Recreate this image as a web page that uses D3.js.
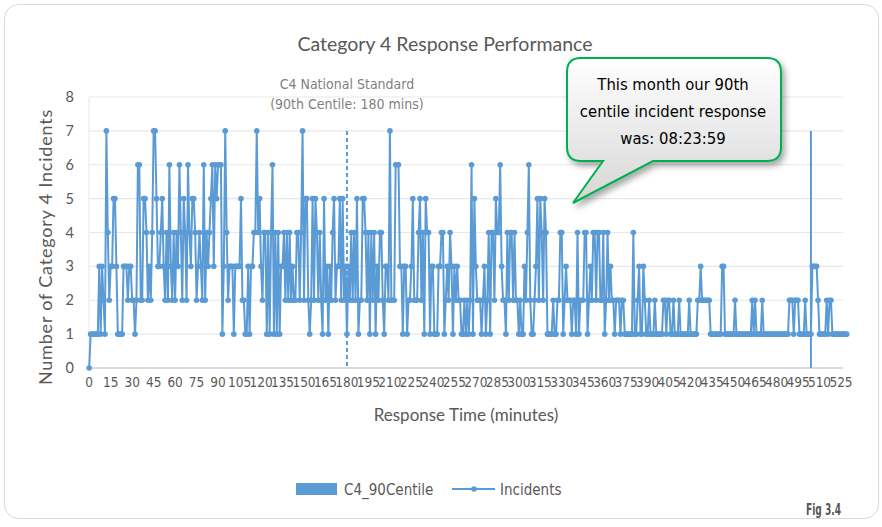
<!DOCTYPE html>
<html>
<head>
<meta charset="utf-8">
<script src="https://cdn.jsdelivr.net/npm/d3@7"></script>
<style>
  body { margin: 0; background: #fff; }
  svg { display: block; }
  text { fill: #595959; }
</style>
</head>
<body>
<div id="chart"></div>
<script>
const width = 882
const height = 527

// incidents per minute of response time (minutes 0..529)
const incidents = [
  0,1,1,1,1,1,1,3,1,3, 2,1,7,4,2,3,3,5,5,3, 1,1,1,1,3,3,3,2,3,3, 2,2,1,2,6,6,2,2,5,5,
  4,2,3,2,4,7,7,5,3,3, 4,5,3,2,4,2,6,3,2,4, 2,4,3,6,4,2,5,4,2,6, 4,3,5,5,4,2,3,4,3,2,
  6,2,4,3,4,5,6,3,6,5, 6,6,6,1,3,7,4,2,3,3, 3,1,3,3,3,3,5,2,2,1, 1,3,1,3,3,4,4,7,4,5,
  3,2,4,4,1,4,1,4,6,1, 4,1,4,1,3,3,4,2,4,2, 4,2,3,2,2,4,4,2,4,7, 2,5,5,2,1,2,5,2,5,4,
  2,4,2,1,5,2,3,1,3,2, 4,5,2,3,3,5,2,5,2,3, 1,3,2,4,2,4,2,5,1,2, 2,5,5,4,2,4,1,4,2,4,
  1,3,2,4,4,2,1,3,3,2, 7,2,2,2,6,6,6,3,3,1, 3,3,1,2,2,3,5,2,2,2, 4,5,2,4,1,5,4,4,1,3,
  3,1,1,1,3,3,4,4,1,2, 3,2,4,3,1,3,2,3,2,2, 1,1,2,1,2,1,2,6,1,5, 3,2,2,2,1,2,3,1,2,4,
  1,4,4,2,5,4,4,6,3,2, 2,1,4,2,4,4,2,4,2,2, 1,2,1,1,3,2,4,6,2,1, 1,2,3,5,2,5,4,2,5,4,
  1,1,1,1,2,1,1,2,2,4, 4,1,2,3,2,2,2,1,2,2, 1,4,1,2,2,2,4,4,1,2, 3,2,4,4,2,4,4,2,2,4,
  1,2,4,2,3,2,2,1,2,2, 2,1,2,2,1,1,1,1,1,1, 4,1,1,2,3,1,1,3,2,1, 1,2,1,1,1,2,1,1,1,1,
  1,2,2,1,2,2,1,1,2,1, 1,1,2,1,1,1,1,1,1,2, 1,1,1,1,1,2,2,3,2,2, 2,2,2,2,1,1,1,1,1,1,
  1,1,3,3,1,1,1,1,1,1, 1,2,1,1,1,1,1,1,1,1, 1,1,1,2,1,2,1,1,1,1, 2,1,1,1,1,1,1,1,1,1,
  1,1,1,1,1,1,1,1,1,2, 2,2,1,2,2,2,1,1,1,1, 2,1,1,1,1,3,3,3,3,2, 1,1,1,1,1,2,1,2,2,1,
  1,1,1,1,1,1,1,1,1,1
]
const nationalStandard = { minute: 180, height: 7 }
const centile90 = { minute: 504, height: 7 }
const xTicks = d3.range(0, 526, 15)
const yTicks = [0, 1, 2, 3, 4, 5, 6, 7, 8]
const calloutLines = ['This month our 90th', 'centile incident response', 'was: 08:23:59']

const blue = '#5b9bd5'
const narrow = '"Liberation Sans Narrow", "DejaVu Sans Condensed", sans-serif'
const body = 'Lato, "Open Sans", sans-serif'

const plot = { left: 89, right: 843, top: 97, bottom: 368 }

const x = d3.scaleLinear()
    .domain([0, incidents.length - 1])
    .range([89.2, 89.2 + 1.432 * (incidents.length - 1)])

const y = d3.scaleLinear()
    .domain([0, 8])
    .range([plot.bottom, plot.top])

const svg = d3.select('#chart')
    .append('svg')
    .attr('width', width)
    .attr('height', height)

const defs = svg.append('defs')
const grad = defs.append('linearGradient')
    .attr('id', 'calloutFill')
    .attr('x1', 0).attr('y1', 0).attr('x2', 0).attr('y2', 1)
grad.append('stop').attr('offset', '0%').attr('stop-color', '#ffffff')
grad.append('stop').attr('offset', '100%').attr('stop-color', '#d6d6d6')
defs.append('filter')
    .attr('id', 'shadow')
    .attr('x', '-20%').attr('y', '-20%').attr('width', '150%').attr('height', '150%')
    .append('feDropShadow')
    .attr('dx', 3).attr('dy', 4).attr('stdDeviation', 3)
    .attr('flood-color', '#000').attr('flood-opacity', 0.35)

// chart frame
svg.append('rect')
    .attr('x', 4.5).attr('y', 4.5)
    .attr('width', 874).attr('height', 514)
    .attr('rx', 14)
    .attr('fill', '#fff')
    .attr('stroke', '#d9d9d9')

// gridlines
svg.append('g')
    .selectAll('line')
    .data(yTicks)
    .join('line')
    .attr('x1', plot.left).attr('x2', plot.right)
    .attr('y1', d => y(d)).attr('y2', d => y(d))
    .attr('stroke', d => d === 0 ? '#d0d0d0' : '#e8e8e8')
    .attr('stroke-width', d => d === 0 ? 1.5 : 1.2)

svg.append('line')
    .attr('x1', plot.left).attr('x2', plot.left)
    .attr('y1', plot.top).attr('y2', plot.bottom)
    .attr('stroke', '#e6e6e6')

// y tick labels
svg.append('g')
    .selectAll('text')
    .data(yTicks)
    .join('text')
    .attr('x', 74)
    .attr('y', d => y(d) + 5)
    .attr('text-anchor', 'end')
    .style('font-family', body)
    .style('font-size', '14.5px')
    .text(d => d)

// x tick labels
svg.append('g')
    .selectAll('text')
    .data(xTicks)
    .join('text')
    .attr('x', d => x(d))
    .attr('y', 387)
    .attr('text-anchor', 'middle')
    .style('font-family', narrow)
    .style('font-size', '13.5px')
    .text(d => d)

// axis titles
svg.append('text')
    .attr('transform', 'translate(52,247) rotate(-90)')
    .attr('text-anchor', 'middle')
    .style('font-family', body)
    .style('font-size', '18px')
    .style('letter-spacing', '0.8px')
    .text('Number of Category  4 Incidents')

svg.append('text')
    .attr('x', 466).attr('y', 421)
    .attr('text-anchor', 'middle')
    .style('font-family', body)
    .style('font-size', '17px')
    .text('Response Time (minutes)')

svg.append('text')
    .attr('x', 445).attr('y', 51)
    .attr('text-anchor', 'middle')
    .style('font-family', body)
    .style('font-size', '19.5px')
    .text('Category 4 Response Performance')

// national standard marker
svg.append('line')
    .attr('x1', x(nationalStandard.minute)).attr('x2', x(nationalStandard.minute))
    .attr('y1', y(nationalStandard.height)).attr('y2', y(0))
    .attr('stroke', blue)
    .attr('stroke-width', 2)
    .attr('stroke-dasharray', '4,3')

svg.append('g')
    .selectAll('text')
    .data(['C4 National Standard', '(90th Centile: 180 mins)'])
    .join('text')
    .attr('x', x(nationalStandard.minute))
    .attr('y', (d, i) => 89 + i * 20)
    .attr('text-anchor', 'middle')
    .style('font-family', narrow)
    .style('font-size', '14px')
    .style('fill', '#7f7f7f')
    .text(d => d)

// 90th centile bar
svg.append('rect')
    .attr('x', x(centile90.minute) - 1)
    .attr('y', y(centile90.height))
    .attr('width', 2)
    .attr('height', y(0) - y(centile90.height))
    .attr('fill', blue)

// incidents line
const line = d3.line()
    .x((d, i) => x(i))
    .y(d => y(d))

svg.append('path')
    .datum(incidents)
    .attr('d', line)
    .attr('fill', 'none')
    .attr('stroke', blue)
    .attr('stroke-width', 2)
    .attr('stroke-linejoin', 'round')

svg.append('g')
    .selectAll('circle')
    .data(incidents)
    .join('circle')
    .attr('cx', (d, i) => x(i))
    .attr('cy', d => y(d))
    .attr('r', 2.8)
    .attr('fill', blue)

// callout
const cx0 = 567, cy0 = 58, cx1 = 781, cy1 = 161, r = 14
const calloutPath = `M${cx0 + r},${cy0} H${cx1 - r} Q${cx1},${cy0} ${cx1},${cy0 + r}
  V${cy1 - r} Q${cx1},${cy1} ${cx1 - r},${cy1} H653 L573,203 L603,${cy1}
  H${cx0 + r} Q${cx0},${cy1} ${cx0},${cy1 - r} V${cy0 + r} Q${cx0},${cy0} ${cx0 + r},${cy0} Z`
svg.append('path')
    .attr('d', calloutPath)
    .attr('fill', 'url(#calloutFill)')
    .attr('stroke', '#00b050')
    .attr('stroke-width', 2)
    .attr('filter', 'url(#shadow)')

svg.append('g')
    .selectAll('text')
    .data(calloutLines)
    .join('text')
    .attr('x', 673)
    .attr('y', (d, i) => 90 + i * 27)
    .attr('text-anchor', 'middle')
    .style('font-family', narrow)
    .style('font-size', '16.5px')
    .style('fill', '#000')
    .text(d => d)

// legend
const legend = svg.append('g')
legend.append('rect')
    .attr('x', 296).attr('y', 483)
    .attr('width', 41).attr('height', 12)
    .attr('fill', blue)
legend.append('text')
    .attr('x', 344).attr('y', 495)
    .style('font-family', narrow)
    .style('font-size', '15px')
    .text('C4_90Centile')
legend.append('line')
    .attr('x1', 452).attr('x2', 495)
    .attr('y1', 489).attr('y2', 489)
    .attr('stroke', blue).attr('stroke-width', 2)
legend.append('circle')
    .attr('cx', 474).attr('cy', 489).attr('r', 2.8)
    .attr('fill', blue)
legend.append('text')
    .attr('x', 500).attr('y', 495)
    .style('font-family', narrow)
    .style('font-size', '15px')
    .text('Incidents')

svg.append('text')
    .attr('x', 806).attr('y', 515)
    .attr('textLength', 35)
    .attr('lengthAdjust', 'spacingAndGlyphs')
    .style('font-family', narrow)
    .style('font-size', '16px')
    .style('font-weight', 'bold')
    .text('Fig 3.4')
</script>
</body>
</html>
